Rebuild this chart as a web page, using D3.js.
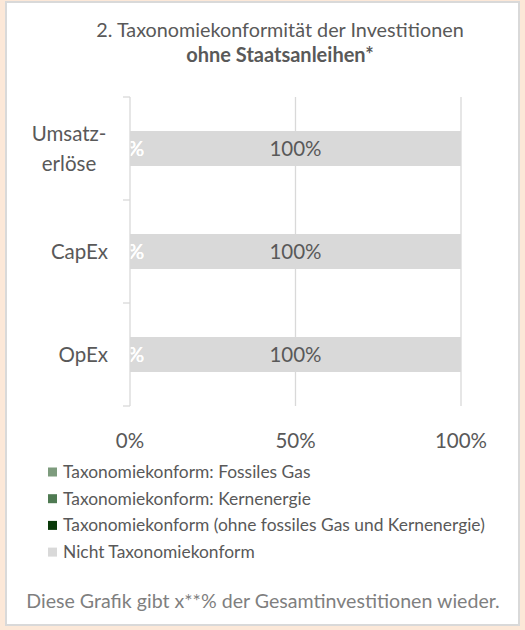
<!DOCTYPE html>
<html>
<head>
<meta charset="utf-8">
<script src="https://cdn.jsdelivr.net/npm/d3@7"></script>
<style>
  body { margin: 0; background: #fce8d8; }
  svg { display: block; }
  text { font-family: Lato, "Open Sans", sans-serif; }
</style>
</head>
<body>
<div id="chart"></div>
<script>
const categories = [["Umsatz-", "erlöse"], ["CapEx"], ["OpEx"]];
const seriesNames = [
    "Taxonomiekonform: Fossiles Gas",
    "Taxonomiekonform: Kernenergie",
    "Taxonomiekonform (ohne fossiles Gas und Kernenergie)",
    "Nicht Taxonomiekonform"
];
const seriesColors = ["#7d9b7d", "#4f7a52", "#0a3a0a", "#d9d9d9"];
const gasValues = [0, 0, 0];
const nuclearValues = [0, 0, 0];
const alignedValues = [0, 0, 0];
const notAlignedValues = [100, 100, 100];
const xTicks = [0, 50, 100];
const titleLine1 = "2. Taxonomiekonformität der Investitionen";
const titleLine2 = "ohne Staatsanleihen*";
const footnote = "Diese Grafik gibt x**% der Gesamtinvestitionen wieder.";

const width = 525, height = 630;
const margin = {top: 97, right: 64, bottom: 224, left: 130};

const svg = d3.select("#chart").append("svg")
    .attr("width", width)
    .attr("height", height);

// panel
svg.append("rect")
    .attr("x", 6).attr("y", 2)
    .attr("width", 513).attr("height", 623)
    .attr("fill", "white")
    .attr("stroke", "#d9d9d9")
    .attr("stroke-width", 2);

svg.append("text")
    .attr("x", 280).attr("y", 37)
    .attr("text-anchor", "middle")
    .attr("font-size", 19.8)
    .attr("fill", "#595959")
    .text(titleLine1);
svg.append("text")
    .attr("x", 280).attr("y", 62)
    .attr("text-anchor", "middle")
    .attr("font-size", 20)
    .attr("font-weight", "bold")
    .attr("fill", "#595959")
    .text(titleLine2);

const x = d3.scaleLinear()
    .domain([0, 100])
    .range([margin.left, width - margin.right]);

const y = d3.scaleBand()
    .domain(d3.range(categories.length))
    .range([margin.top, height - margin.bottom])
    .paddingInner(0.66)
    .paddingOuter(0.33);

const rows = categories.map((c, i) => ({
    i: i,
    gas: gasValues[i],
    nuclear: nuclearValues[i],
    aligned: alignedValues[i],
    notAligned: notAlignedValues[i]
}));
const keys = ["gas", "nuclear", "aligned", "notAligned"];
const stacked = d3.stack().keys(keys)(rows);

// gridlines
svg.append("g")
    .selectAll("line")
    .data(xTicks.slice(1))
    .join("line")
        .attr("x1", d => x(d)).attr("x2", d => x(d))
        .attr("y1", margin.top).attr("y2", height - margin.bottom)
        .attr("stroke", "#d9d9d9")
        .attr("stroke-width", 1.3);

// bars
svg.append("g")
    .selectAll("g")
    .data(stacked)
    .join("g")
        .attr("fill", (_, k) => seriesColors[k])
    .selectAll("rect")
    .data(d => d)
    .join("rect")
        .attr("x", d => x(d[0]))
        .attr("y", d => y(d.data.i))
        .attr("width", d => x(d[1]) - x(d[0]))
        .attr("height", y.bandwidth());

// data labels
svg.append("g")
    .selectAll("g")
    .data(stacked)
    .join("g")
        .attr("fill", (_, k) => k < 3 ? "white" : "#595959")
    .selectAll("text")
    .data(d => d)
    .join("text")
        .attr("x", d => x((d[0] + d[1]) / 2))
        .attr("y", d => y(d.data.i) + y.bandwidth() / 2)
        .attr("dy", "0.35em")
        .attr("text-anchor", "middle")
        .attr("font-size", 20.5)
        .text(d => (d[1] - d[0]) + "%");

// y axis
const yAxis = svg.append("g")
    .attr("transform", `translate(${margin.left},0)`);
yAxis.append("line")
    .attr("x1", 0).attr("x2", 0)
    .attr("y1", margin.top).attr("y2", height - margin.bottom)
    .attr("stroke", "#d9d9d9")
    .attr("stroke-width", 1.3);
yAxis.selectAll(".tick")
    .data(d3.range(categories.length + 1))
    .join("line")
        .attr("x1", -7).attr("x2", 0)
        .attr("y1", i => margin.top + i * y.step())
        .attr("y2", i => margin.top + i * y.step())
        .attr("stroke", "#d9d9d9")
        .attr("stroke-width", 1.3);

yAxis.selectAll(".cat")
    .data(categories)
    .join("text")
        .attr("font-size", 20.5)
        .attr("fill", "#595959")
        .attr("transform", (d, i) => {
            const cy = y(i) + y.bandwidth() / 2;
            return `translate(-22,${cy})`;
        })
        .each(function(lines) {
            const t = d3.select(this);
            const lh = 30;
            lines.forEach((l, j) => {
                t.append("tspan")
                    .attr("x", lines.length > 1 ? -39 : 0)
                    .attr("text-anchor", lines.length > 1 ? "middle" : "end")
                    .attr("y", (j - (lines.length - 1) / 2) * lh)
                    .attr("dy", "0.35em")
                    .text(l);
            });
        });

// x tick labels
svg.append("g")
    .selectAll("text")
    .data(xTicks)
    .join("text")
        .attr("x", d => x(d))
        .attr("y", 441)
        .attr("dy", "0.35em")
        .attr("text-anchor", "middle")
        .attr("font-size", 20.5)
        .attr("fill", "#595959")
        .text(d => d + "%");

// legend
const legend = svg.append("g")
    .selectAll("g")
    .data(seriesNames)
    .join("g")
        .attr("transform", (_, i) => `translate(48,${472 + i * 26.7})`);
legend.append("rect")
    .attr("x", 0).attr("y", -4.5)
    .attr("width", 9).attr("height", 9)
    .attr("fill", (_, i) => seriesColors[i]);
legend.append("text")
    .attr("x", 15)
    .attr("dy", "0.35em")
    .attr("font-size", 17.4)
    .attr("fill", "#595959")
    .text(d => d);

svg.append("text")
    .attr("x", 263).attr("y", 601)
    .attr("dy", "0.35em")
    .attr("text-anchor", "middle")
    .attr("font-size", 19.6)
    .attr("fill", "#7f7f7f")
    .text(footnote);
</script>
</body>
</html>
